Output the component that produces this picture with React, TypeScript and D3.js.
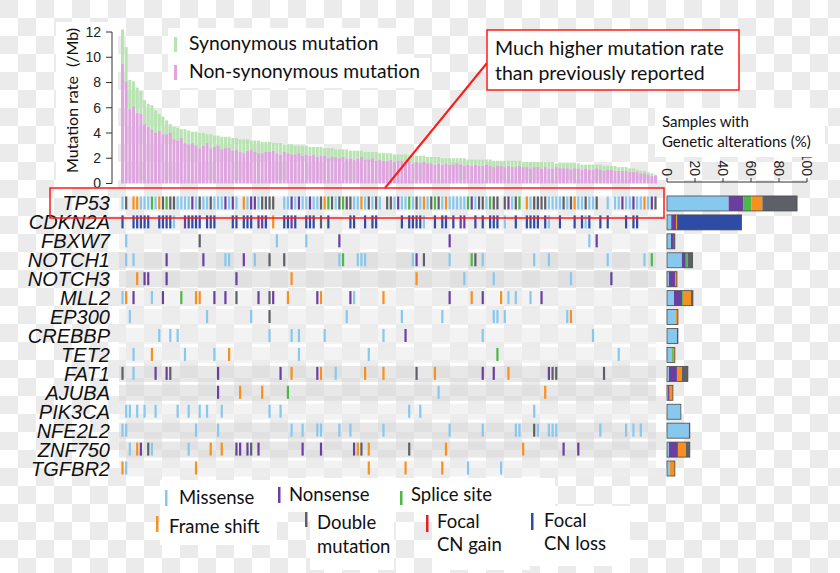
import React from "react";
import * as d3 from "d3";

// samples are sorted by mutation rate, one column each
const sampleCount = 146;

const totalRate = [
  12.2, 10.8, 8.2, 8.1, 7.6, 7.3, 6.6, 6.3, 6.2, 5.8,
  5.5, 5.3, 5.0, 4.7, 4.5, 4.4, 4.3, 4.3, 4.2, 4.1,
  4.1, 4.0, 4.0, 3.9, 3.9, 3.8, 3.8, 3.7, 3.7, 3.7,
  3.6, 3.6, 3.5, 3.5, 3.5, 3.4, 3.4, 3.4, 3.3, 3.3,
  3.3, 3.2, 3.2, 3.2, 3.1, 3.1, 3.1, 3.0, 3.0, 3.0,
  3.0, 2.9, 2.9, 2.9, 2.9, 2.8, 2.8, 2.8, 2.7, 2.7,
  2.7, 2.7, 2.6, 2.6, 2.6, 2.6, 2.5, 2.5, 2.5, 2.5,
  2.4, 2.4, 2.4, 2.4, 2.3, 2.3, 2.3, 2.3, 2.2, 2.2,
  2.2, 2.2, 2.2, 2.1, 2.1, 2.1, 2.1, 2.0, 2.0, 2.0,
  2.0, 2.0, 2.0, 2.0, 1.9, 1.9, 1.9, 1.9, 1.9, 1.9,
  1.9, 1.8, 1.8, 1.8, 1.8, 1.8, 1.8, 1.8, 1.8, 1.7,
  1.7, 1.7, 1.7, 1.7, 1.7, 1.7, 1.7, 1.7, 1.6, 1.6,
  1.6, 1.6, 1.6, 1.6, 1.6, 1.5, 1.5, 1.5, 1.5, 1.5,
  1.5, 1.4, 1.4, 1.4, 1.4, 1.3, 1.3, 1.3, 1.2, 1.2,
  1.1, 1.0, 1.0, 0.9, 0.8, 0.7,
];

const nonSynRate = [
  9.5, 8.1, 5.9, 6.1, 5.6, 5.5, 4.7, 4.5, 4.3, 4.0,
  4.2, 3.9, 3.9, 4.0, 3.5, 3.4, 3.6, 3.2, 3.1, 3.2,
  3.0, 2.8, 3.0, 3.2, 2.8, 2.9, 3.0, 2.7, 2.8, 2.8,
  2.6, 2.7, 2.5, 2.4, 2.6, 2.7, 2.5, 2.4, 2.4, 2.5,
  2.5, 2.6, 2.4, 2.3, 2.5, 2.4, 2.3, 2.3, 2.4, 2.2,
  2.3, 2.2, 2.3, 2.1, 2.2, 2.2, 2.0, 2.1, 2.1, 2.0,
  2.1, 2.0, 2.0, 1.9, 2.0, 2.1, 1.9, 1.9, 2.0, 1.8,
  1.9, 1.8, 1.8, 1.9, 1.7, 1.8, 1.8, 1.7, 1.7, 1.6,
  1.7, 1.6, 1.7, 1.6, 1.6, 1.5, 1.6, 1.5, 1.6, 1.5,
  1.5, 1.6, 1.5, 1.4, 1.5, 1.4, 1.5, 1.4, 1.4, 1.5,
  1.4, 1.3, 1.4, 1.4, 1.3, 1.4, 1.3, 1.3, 1.4, 1.3,
  1.3, 1.2, 1.3, 1.3, 1.2, 1.3, 1.2, 1.2, 1.3, 1.2,
  1.2, 1.2, 1.1, 1.2, 1.2, 1.1, 1.2, 1.1, 1.1, 1.2,
  1.1, 1.0, 1.1, 1.1, 1.0, 1.0, 1.0, 1.0, 0.9, 0.9,
  0.9, 0.8, 0.8, 0.7, 0.6, 0.6,
];

const rateTicks = [0, 2, 4, 6, 8, 10, 12];
const pctTicks = [0, 20, 40, 60, 80, 100];

const genes = [
  "TP53", "CDKN2A", "FBXW7", "NOTCH1", "NOTCH3", "MLL2", "EP300", "CREBBP",
  "TET2", "FAT1", "AJUBA", "PIK3CA", "NFE2L2", "ZNF750", "TGFBR2",
];
const darkRows = ["NOTCH1", "NOTCH3", "FAT1", "AJUBA", "NFE2L2", "ZNF750"];

// per-gene calls: "<sample column><type>"
// m missense, n nonsense, s splice, f frame shift, d double, g focal gain, l focal loss
const tp53 = "0m 1d 3f 4f 5m 6m 7m 8s 9m 10f 11d 12s 13d 14d 15m 16m 17m 18m 19n 20m 21d 22m 23m 24d 25m 26m 27m 28n 29m 30n 31m 33f 34m 35n 36n 37m 38d 39d 40d 41d 44m 45m 46n 47m 48n 49m 50m 51n 52m 53m 54d 55f 56s 57d 58m 59d 60s 61d 62d 63m 64m 65f 66m 67d 68m 69d 70m 72d 73d 74m 75n 76m 77m 78s 79m 80d 81m 82f 83m 84d 85s 86d 87m 88f 89m 90m 91m 92m 93m 94s 95n 96m 97d 98d 99m 100s 101d 102d 104d 105n 106m 107d 108s 110f 111m 112d 113d 114d 115d 116m 117m 118m 119m 120d 121m 122d 123f 124m 125m 126d 127m 128m 129d 132m 134m 135m 136n 137m 138m 139n 140m 141m 142f 143m 144n 145d";
const cdkn2a = "0l 3l 4l 5l 6l 7l 10l 11l 12l 13l 14m 17n 18l 19l 20l 21l 23l 24l 25l 30l 31l 33l 34l 35l 37n 38n 39l 41f 44l 45l 46n 47l 50l 51l 52l 54d 56l 62l 63l 66l 68l 69l 76l 78l 79l 80l 81l 82m 85l 87l 88l 90l 92n 93n 96l 98l 100l 101l 102l 104m 107l 110l 111l 112l 113l 115l 116m 119l 123l 125l 126m 127l 130l 132l 137l 139l 140l";
const fbxw7 = "1m 21d 42m 50m 59n 89n 127m 129n";
const notch1 = "1m 3m 12n 22n 28m 29m 33n 36m 40d 44d 59m 60s 64m 65m 66m 79m 80n 82d 89m 95s 96d 98m 112m 116m 132m 142m 144s";
const notch3 = "4f 6n 7n 12n 31n 46f 80f 93m 101m 122m 133n";
const mll2 = "0m 1f 3n 8m 11n 16s 20f 21f 25n 28n 31d 37n 40d 41n 45f 53n 54f 62n 63m 71f 89n 95f 98n 103f 105m 107m 111m 114n";
const ep300 = "2m 23m 35m 40d 61m 76m 87m 101m 102m 104m 121m 122f";
const crebbp = "10m 13m 15m 40m 46m 48m 55m 71m 77n 98m 128m";
const tet2 = "3m 8f 17m 25m 29f 48m 67m 102s 135m";
const fat1 = "0d 3m 9n 12n 13d 26n 43n 46f 53n 54f 58m 66f 71f 80d 85f 98n 101n 105f 116n 117d 118d 131d";
const ajuba = "26n 32f 38f 45s 86m 115f";
const pik3ca = "1m 2m 4m 6m 9m 15m 18m 21m 23m 27m 40m 43m 78m 81m 112m";
const nfe2l2 = "0m 1m 20m 26m 46m 49m 53m 54m 59m 62m 71m 89m 98m 107m 108m 112d 113m 116m 117m 118m 130m 137m 139m 141m";
const znf750 = "2m 4f 5n 7d 8m 18m 24f 27f 31n 32n 34n 35d 37n 49n 54n 63n 64f 65d 67f 78d 88f 109f 120n 124n";
const tgfbr2 = "0f 1m 20f 67f 77f 87f 94m 103m";

const geneCalls = [tp53, cdkn2a, fbxw7, notch1, notch3, mll2, ep300, crebbp, tet2, fat1, ajuba, pik3ca, nfe2l2, znf750, tgfbr2];

// samples with alterations (%), per gene, per type
const missensePct = [44, 3, 2.8, 10.6, 1.4, 5, 6.4, 7.1, 3.5, 1.4, 0.7, 9.9, 15.6, 1.4, 2.1];
const nonsensePct = [10.6, 3.5, 2.1, 2.8, 4.3, 5.7, 0, 0.7, 0, 5.7, 0.7, 0, 0, 6.4, 0];
const splicePct = [5.7, 0, 0, 1.4, 0, 0.7, 0, 0, 0.7, 0, 0.7, 0, 0, 0, 0];
const frameshiftPct = [7.8, 0.7, 0, 0, 1.4, 5.7, 1.4, 0, 1.4, 3.5, 2.1, 0, 0, 5.7, 3.5];
const doublePct = [24.8, 0, 0.7, 3.5, 0, 1.4, 0, 0, 0, 4.3, 0, 0, 0.7, 2.8, 0];
const gainPct = [0, 0, 0, 0, 0, 0, 0, 0, 0, 0, 0, 0, 0, 0, 0];
const lossPct = [0, 46, 0, 0, 0, 0, 0, 0, 0, 0, 0, 0, 0, 0, 0];

const typeKeys = ["m", "n", "s", "f", "d", "g", "l"];
const typeColor: Record<string, string> = {
  m: "#86c8ee",
  n: "#6b3fa0",
  s: "#4db848",
  f: "#f7901e",
  d: "#5d6066",
  g: "#e31e24",
  l: "#2e4ca5",
};
const pctByType = [missensePct, nonsensePct, splicePct, frameshiftPct, doublePct, gainPct, lossPct];

const parseCalls = (s: string) =>
  s.split(" ").map((t) => ({ col: +t.slice(0, -1), type: t.slice(-1) }));

const sans = "Lato, 'Open Sans', sans-serif";
const arial = "'Liberation Sans', Arial, sans-serif";

export default function App() {
  const x = d3.scaleBand<number>().domain(d3.range(sampleCount)).range([121, 657]).paddingInner(0.18);
  const y = d3.scaleLinear().domain([0, 12]).range([183.5, 32]);
  const row = d3.scaleBand<string>().domain(genes).range([194, 478]);
  const pct = d3.scaleLinear().domain([0, 100]).range([667, 807]);
  const mid = (g: string) => (row(g) as number) + row.bandwidth() / 2;

  return (
    <div style={{ position: "absolute", left: 0, top: 0 }}>
      <svg width={840} height={573} style={{ display: "block" }}>
        <defs>
          <pattern id="checker" width={36} height={36} patternUnits="userSpaceOnUse">
            <rect width={36} height={36} fill="#fff" />
            <rect width={18} height={18} fill="#ebebeb" />
            <rect x={18} y={18} width={18} height={18} fill="#ebebeb" />
          </pattern>
        </defs>
        <rect width={840} height={573} fill="url(#checker)" />

        {/* y axis panel */}
        <rect x={56} y={22} width={62} height={166} fill="#fff" />

        {/* mutation rate bars */}
        <g>
          {totalRate.map((t, i) => (
            <g key={i}>
              <rect x={x(i)} width={x.bandwidth()} y={y(t)} height={y(nonSynRate[i]) - y(t)} fill="#b8e4b2" />
              <rect x={x(i)} width={x.bandwidth()} y={y(nonSynRate[i])} height={y(0) - y(nonSynRate[i])} fill="#dea5de" />
            </g>
          ))}
        </g>

        {/* y axis */}
        <g fontFamily={arial} fontSize={14} fill="#222">
          <line x1={112} x2={112} y1={y(0)} y2={y(12)} stroke="#333" strokeWidth={1} />
          {rateTicks.map((t) => (
            <g key={t}>
              <line x1={106} x2={112} y1={y(t)} y2={y(t)} stroke="#333" />
              <text x={101} y={y(t)} dy="0.35em" textAnchor="end">{t}</text>
            </g>
          ))}
        </g>
        <g fontFamily={sans} fontSize={16} fill="#111">
          <text transform="translate(78,173) rotate(-90)">Mutation rate</text>
          <text transform="translate(78,67) rotate(-90)">(/Mb)</text>
        </g>

        {/* top legend */}
        <rect x={168} y={28} width={229} height={30} fill="#fff" />
        <rect x={168} y={58} width={262} height={30} fill="#fff" />
        <rect x={174} y={37} width={3} height={15} fill="#b8e4b2" />
        <rect x={174} y={65} width={3} height={15} fill="#dea5de" />
        <g fontFamily={sans} fontSize={19.3} fill="#111">
          <text x={189} y={50}>Synonymous mutation</text>
          <text x={189} y={78}>Non-synonymous mutation</text>
        </g>

        {/* oncoprint rows */}
        {genes.map((g) => (
          <rect
            key={g}
            x={119}
            y={mid(g) - 8}
            width={537}
            height={16}
            fill={darkRows.includes(g) ? "#d8d8d8" : "#ececec"}
            opacity={darkRows.includes(g) ? 0.6 : 0.65}
          />
        ))}
        {geneCalls.map((s, gi) =>
          parseCalls(s).map((c, k) => (
            <rect
              key={gi + "-" + k}
              x={(x(c.col) as number) + x.bandwidth() / 2 - 1.1}
              y={mid(genes[gi]) - 7}
              width={2.2}
              height={13}
              fill={typeColor[c.type]}
            />
          ))
        )}

        {/* gene labels */}
        <g fontFamily={arial} fontStyle="italic" fontSize={20} fill="#111" textAnchor="end">
          {genes.map((g) => (
            <text key={g} x={110} y={mid(g) + 7}>{g}</text>
          ))}
        </g>

        {/* alteration frequency bars */}
        {genes.map((g, gi) => {
          const vals = pctByType.map((a) => a[gi]);
          const ends = Array.from(d3.cumsum(vals));
          const total = ends[ends.length - 1];
          return (
            <g key={g}>
              {vals.map((v, k) =>
                v > 0 ? (
                  <rect
                    key={k}
                    x={pct(ends[k] - v)}
                    width={pct(v) - pct(0)}
                    y={mid(g) - 7.5}
                    height={15}
                    fill={typeColor[typeKeys[k]]}
                  />
                ) : null
              )}
              <rect x={pct(0)} width={pct(total) - pct(0)} y={mid(g) - 7.5} height={15} fill="none" stroke="#4a4a4a" strokeWidth={0.8} />
            </g>
          );
        })}

        {/* percent axis */}
        <g fontFamily={arial} fontSize={14} fill="#222">
          <line x1={pct(0)} x2={pct(100)} y1={182} y2={182} stroke="#333" />
          {pctTicks.map((t) => (
            <g key={t}>
              <line x1={pct(t)} x2={pct(t)} y1={178} y2={182} stroke="#333" />
              <text transform={`translate(${pct(t)},176) rotate(90)`} dy="0.35em" textAnchor="end">{t}</text>
            </g>
          ))}
        </g>
        <rect x={655} y={108} width={170} height={49} fill="#fff" />
        <g fontFamily={sans} fontSize={15} fill="#111">
          <text x={662} y={127}>Samples with</text>
          <text x={662} y={147}>Genetic alterations (%)</text>
        </g>

        {/* highlight + callout */}
        <rect x={50} y={188} width={614} height={30} fill="none" stroke="#ff1a1a" strokeWidth={1.5} />
        <line x1={385} y1={188} x2={487} y2={63} stroke="#ff1a1a" strokeWidth={2} />
        <rect x={487} y={30} width={252} height={60} fill="#fff" stroke="#ff1a1a" strokeWidth={1.5} />
        <g fontFamily={sans} fontSize={19.5} fill="#111">
          <text x={495} y={55}>Much higher mutation rate</text>
          <text x={495} y={80}>than previously reported</text>
        </g>

        {/* bottom legend */}
        <rect x={160} y={480} width={117} height={65} fill="#fff" />
        <rect x={277} y={478} width={118} height={34} fill="#fff" />
        <rect x={395} y={478} width={160} height={34} fill="#fff" />
        <rect x={310} y={510} width={84} height={60} fill="#fff" />
        <rect x={432} y={510} width={98} height={60} fill="#fff" />
        <rect x={530} y={506} width={100} height={60} fill="#fff" />
        <rect x={165} y={490} width={2.5} height={16} fill={typeColor.m} />
        <rect x={278} y={487} width={2.5} height={16} fill={typeColor.n} />
        <rect x={400} y={491} width={2.5} height={14} fill={typeColor.s} />
        <rect x={156} y={516} width={2.5} height={16} fill={typeColor.f} />
        <rect x={305} y={512} width={2.5} height={15} fill={typeColor.d} />
        <rect x={426} y={515} width={2.5} height={17} fill={typeColor.g} />
        <rect x={531} y={513} width={2.5} height={17} fill={typeColor.l} />
        <g fontFamily={sans} fontSize={18.5} fill="#111">
          <text x={179} y={504}>Missense</text>
          <text x={289} y={501}>Nonsense</text>
          <text x={411} y={501}>Splice site</text>
          <text x={169} y={533}>Frame shift</text>
          <text x={317} y={529}>Double</text>
          <text x={317} y={553}>mutation</text>
          <text x={437} y={528}>Focal</text>
          <text x={437} y={551}>CN gain</text>
          <text x={544} y={527}>Focal</text>
          <text x={544} y={550}>CN loss</text>
        </g>
      </svg>
    </div>
  );
}
